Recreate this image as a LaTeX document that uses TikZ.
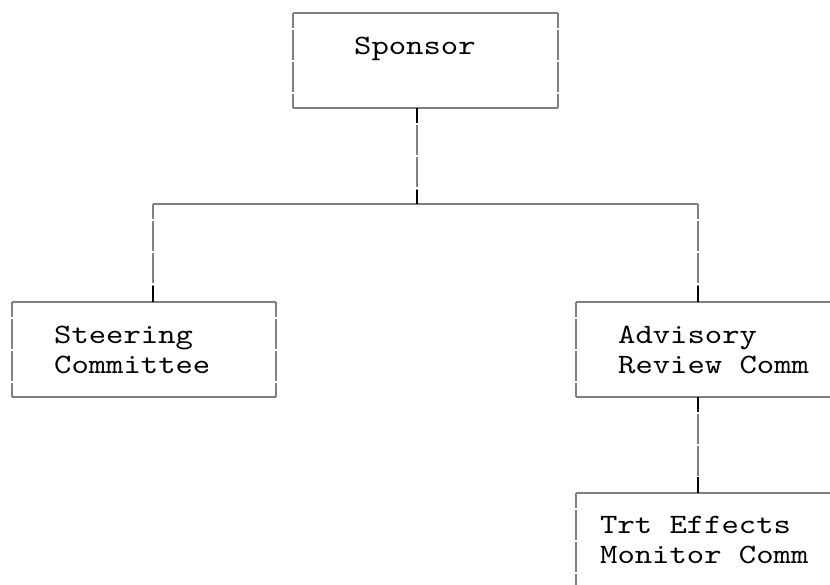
\documentclass[tikz,border=0pt]{standalone}
\usepackage{fontspec}
\newfontfamily\chartfont{lmmono10-regular.otf}[FakeStretch=1.18]
\usetikzlibrary{positioning}

\tikzset{
  box/.style={draw=none, inner sep=0pt, outer sep=0pt, minimum width=264pt, minimum height=95pt},
  hrule/.style={draw=gray, line width=1.2pt},
  vrule/.style={draw=gray, line width=1.4pt, dash pattern=on 15pt off 2pt on 15pt off 0pt},
  conn/.style={draw=gray, line width=1.8pt, dash pattern=on 15pt off 2pt on 15pt off 0pt},
  connend/.style={draw=black, line width=1.8pt},
  lbl/.style={font=\chartfont\fontsize{28}{30}\selectfont, align=left, inner sep=0pt, anchor=base west},
}

\begin{document}
\begin{tikzpicture}[x=1pt,y=-1pt]
    \useasboundingbox (0,0) rectangle (830,584);
    \clip (0,0) rectangle (830,584);

    % boxes
    \node[box, minimum width=265pt] (sponsor) at (425.5,60.5) {};
    \node[box] (steer) at (144,349.5) {};
    \node[box] (advis) at (708,349.5) {};
    \node[box, below=96pt of advis] (trt) {};

    \foreach \b in {sponsor,steer,advis,trt} {
      \draw[hrule] (\b.north west) -- (\b.north east);
      \draw[hrule] (\b.south west) -- (\b.south east);
      \draw[vrule] (\b.north west) -- (\b.south west);
      \draw[vrule] (\b.north east) -- (\b.south east);
    }

    % texts (base = last line)
    \node[lbl] (sponsorlbl) at (354,54.5) {Sponsor};
    \node[lbl] (steerlbl) at (54,373) {Steering\\Committee};
    \node[lbl] (advislbl) at (618,373) {Advisory\\Review Comm};
    \node[lbl] (trtlbl) at (600,563) {Trt Effects\\Monitor Comm};

    % connectors
    \coordinate (hub) at (417,204);
    \coordinate (lturn) at (153,204);
    \coordinate (rturn) at (698,204);

    \draw[hrule] (lturn) -- (rturn);
    \draw[conn] (sponsor.south -| hub) -- (hub);
    \draw[conn] (lturn) -- (lturn |- steer.north);
    \draw[conn] (rturn) -- (rturn |- advis.north);
    \draw[conn] (advis.south -| rturn) -- (trt.north -| rturn);

    \draw[connend] (sponsor.south -| hub) -- ++(0,15);
    \draw[connend] (hub) -- ++(0,-14);
    \draw[connend] (lturn |- steer.north) -- ++(0,-16);
    \draw[connend] (rturn |- advis.north) -- ++(0,-16);
    \draw[connend] (advis.south -| rturn) -- ++(0,15);
    \draw[connend] (trt.north -| rturn) -- ++(0,-16);
\end{tikzpicture}
\end{document}
